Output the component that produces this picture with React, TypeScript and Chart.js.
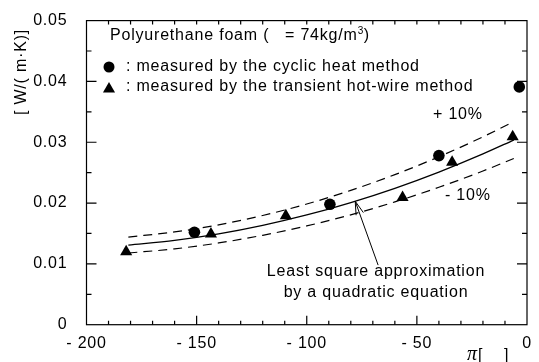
import React, { useEffect, useRef } from 'react';
import { Chart, registerables } from 'chart.js';

Chart.register(...registerables);

// Measured points: cyclic heat method (circles)
const CYCLIC_T = [-151, -89.5, -40, -3.5];
const CYCLIC_K = [0.0152, 0.0198, 0.0278, 0.0391];
// Measured points: transient hot-wire method (triangles)
const HOTWIRE_T = [-182, -143.5, -109.5, -56.5, -34, -6.5];
const HOTWIRE_K = [0.012, 0.0149, 0.0179, 0.0209, 0.0267, 0.0309];
// Least square quadratic curve
const FIT_T = [-181, -160, -140, -120, -100, -80, -60, -40, -20, -6];
const FIT_K = [0.0131, 0.01386, 0.01493, 0.01633, 0.01804, 0.02008, 0.02243, 0.0251, 0.02808, 0.03036];
const UPPER_K = [0.01441, 0.01525, 0.01642, 0.01796, 0.01984, 0.02209, 0.02467, 0.02761, 0.03089, 0.0334];
const LOWER_K = [0.01179, 0.01247, 0.01344, 0.0147, 0.01624, 0.01807, 0.02019, 0.02259, 0.02527, 0.02732];
// Annotation arrow (tail -> tip)
const ARROW_T = [-67.6, -78];
const ARROW_K = [0.0098, 0.0203];
// Axis ticks
const X_TICKS = [-200, -150, -100, -50, 0];
const Y_TICKS = [0, 0.01, 0.02, 0.03, 0.04, 0.05];

const FAMILY = '"Liberation Sans", Arial, Helvetica, sans-serif';
const SPACING = '0.8px';

const pts = (xs: number[], ys: number[]) => xs.map((x, i) => ({ x, y: ys[i] }));

const annot = {
  id: 'annot',
  beforeDraw(chart: any) {
    chart.ctx.letterSpacing = SPACING;
  },
  afterDraw(chart: any) {
    const { ctx, chartArea: a, scales } = chart;
    const x = scales.x;
    const y = scales.y;
    ctx.save();
    ctx.letterSpacing = SPACING;
    ctx.strokeStyle = '#000';
    ctx.fillStyle = '#000';
    ctx.lineWidth = 1.2;
    ctx.strokeRect(a.left, a.top, a.right - a.left, a.bottom - a.top);
    ctx.beginPath();
    for (let v = -190; v <= -10; v += 10) {
      const px = x.getPixelForValue(v);
      const major = v % 50 === 0;
      ctx.moveTo(px, a.bottom);
      ctx.lineTo(px, a.bottom - (major ? 9 : 4));
      ctx.moveTo(px, a.top);
      ctx.lineTo(px, a.top + 4);
    }
    for (let i = 1; i < 10; i++) {
      const py = y.getPixelForValue(i * 0.005);
      const len = i % 2 === 0 ? 10 : 5;
      ctx.moveTo(a.left, py);
      ctx.lineTo(a.left + len, py);
      ctx.moveTo(a.right, py);
      ctx.lineTo(a.right - len, py);
    }
    ctx.stroke();

    // arrow head
    const tx = x.getPixelForValue(ARROW_T[1]);
    const ty = y.getPixelForValue(ARROW_K[1]);
    const sx = x.getPixelForValue(ARROW_T[0]);
    const sy = y.getPixelForValue(ARROW_K[0]);
    const ang = Math.atan2(sy - ty, sx - tx);
    ctx.lineWidth = 1;
    ctx.beginPath();
    ctx.moveTo(tx + 14 * Math.cos(ang - 0.28), ty + 14 * Math.sin(ang - 0.28));
    ctx.lineTo(tx, ty);
    ctx.lineTo(tx + 14 * Math.cos(ang + 0.28), ty + 14 * Math.sin(ang + 0.28));
    ctx.stroke();

    // texts
    ctx.font = `16px ${FAMILY}`;
    ctx.textBaseline = 'middle';
    ctx.textAlign = 'left';
    ctx.fillText('Polyurethane foam (', 110, 36);
    const eq = '= 74kg/m';
    ctx.fillText(eq, 285, 36);
    const w = ctx.measureText(eq).width;
    ctx.font = `10px ${FAMILY}`;
    ctx.fillText('3', 285 + w, 31);
    ctx.font = `16px ${FAMILY}`;
    ctx.fillText(')', 285 + w + 6, 36);

    ctx.beginPath();
    ctx.arc(109, 67, 5.5, 0, Math.PI * 2);
    ctx.fill();
    ctx.fillText(': measured by the cyclic heat method', 126, 67);
    const r = 7;
    const cy = 89;
    ctx.beginPath();
    ctx.moveTo(109, cy - r);
    ctx.lineTo(109 + r * Math.sin((2 * Math.PI) / 3), cy - r * Math.cos((2 * Math.PI) / 3));
    ctx.lineTo(109 - r * Math.sin((2 * Math.PI) / 3), cy - r * Math.cos((2 * Math.PI) / 3));
    ctx.closePath();
    ctx.fill();
    ctx.fillText(': measured by the transient hot-wire method', 126, 87);

    ctx.fillText('+ 10%', 433, 115);
    ctx.fillText('- 10%', 445, 196);
    ctx.textAlign = 'center';
    ctx.fillText('Least square approximation', 376, 272);
    ctx.fillText('by a quadratic equation', 376, 293);

    // x axis title
    ctx.textAlign = 'left';
    ctx.font = `italic 20px "Liberation Serif", "DejaVu Serif", serif`;
    ctx.fillText('π', 467, 355);
    ctx.font = `16px ${FAMILY}`;
    ctx.fillText('[', 478, 356);
    ctx.fillText(']', 504, 356);

    // y axis title
    ctx.save();
    ctx.translate(22, 72);
    ctx.rotate(-Math.PI / 2);
    ctx.textAlign = 'center';
    ctx.fillText('[ W/( m·K)]', 0, 0);
    ctx.restore();

    ctx.restore();
  },
};

export default function App() {
  const ref = useRef<HTMLCanvasElement>(null);
  useEffect(() => {
    const common = { showLine: true, pointRadius: 0, borderColor: '#000', fill: false };
    const chart = new Chart(ref.current as HTMLCanvasElement, {
      type: 'scatter',
      data: {
        datasets: [
          {
            ...common,
            data: pts(FIT_T, FIT_K),
            borderWidth: 1.3,
            cubicInterpolationMode: 'monotone',
          } as any,
          {
            ...common,
            data: pts(FIT_T, UPPER_K),
            borderWidth: 1.2,
            borderDash: [9, 6],
            cubicInterpolationMode: 'monotone',
          } as any,
          {
            ...common,
            data: pts(FIT_T, LOWER_K),
            borderWidth: 1.2,
            borderDash: [9, 6],
            cubicInterpolationMode: 'monotone',
          } as any,
          {
            ...common,
            data: pts(ARROW_T, ARROW_K),
            borderWidth: 1,
          } as any,
          {
            data: pts(CYCLIC_T, CYCLIC_K),
            pointStyle: 'circle',
            pointRadius: 5.8,
            backgroundColor: '#000',
            borderColor: '#000',
            borderWidth: 0,
          } as any,
          {
            data: pts(HOTWIRE_T, HOTWIRE_K),
            pointStyle: 'triangle',
            pointRadius: 7,
            backgroundColor: '#000',
            borderColor: '#000',
            borderWidth: 0,
          } as any,
        ],
      },
      options: {
        responsive: false,
        animation: false,
        clip: false as any,
        layout: { padding: { left: 0, right: 12, top: 10, bottom: 0 } },
        plugins: { legend: { display: false }, tooltip: { enabled: false } },
        scales: {
          x: {
            type: 'linear',
            min: -200,
            max: 0,
            grid: { display: false },
            border: { display: false },
            afterFit: (s: any) => {
              s.height = 37.3;
            },
            afterBuildTicks: (s: any) => {
              s.ticks = X_TICKS.map((v) => ({ value: v }));
            },
            ticks: {
              autoSkip: false,
              maxRotation: 0,
              padding: 1,
              color: '#000',
              font: { size: 16, family: FAMILY },
              callback: (v: any) => (v < 0 ? '- ' + Math.abs(v) : '0'),
            },
          },
          y: {
            type: 'linear',
            min: 0,
            max: 0.05,
            grid: { display: false },
            border: { display: false },
            afterFit: (s: any) => {
              s.width = 86.5;
            },
            afterBuildTicks: (s: any) => {
              s.ticks = Y_TICKS.map((v) => ({ value: v }));
            },
            ticks: {
              autoSkip: false,
              padding: 11,
              color: '#000',
              font: { size: 16, family: FAMILY },
              callback: (v: any) => (v === 0 ? '0' : Number(v).toFixed(2)),
            },
          },
        },
      },
      plugins: [annot],
    });
    return () => chart.destroy();
  }, []);
  return (
    <div style={{ position: 'absolute', left: 0, top: 0, width: 539, height: 362, background: '#fff' }}>
      <canvas ref={ref} width={539} height={362} style={{ display: 'block', width: 539, height: 362 }} />
    </div>
  );
}
